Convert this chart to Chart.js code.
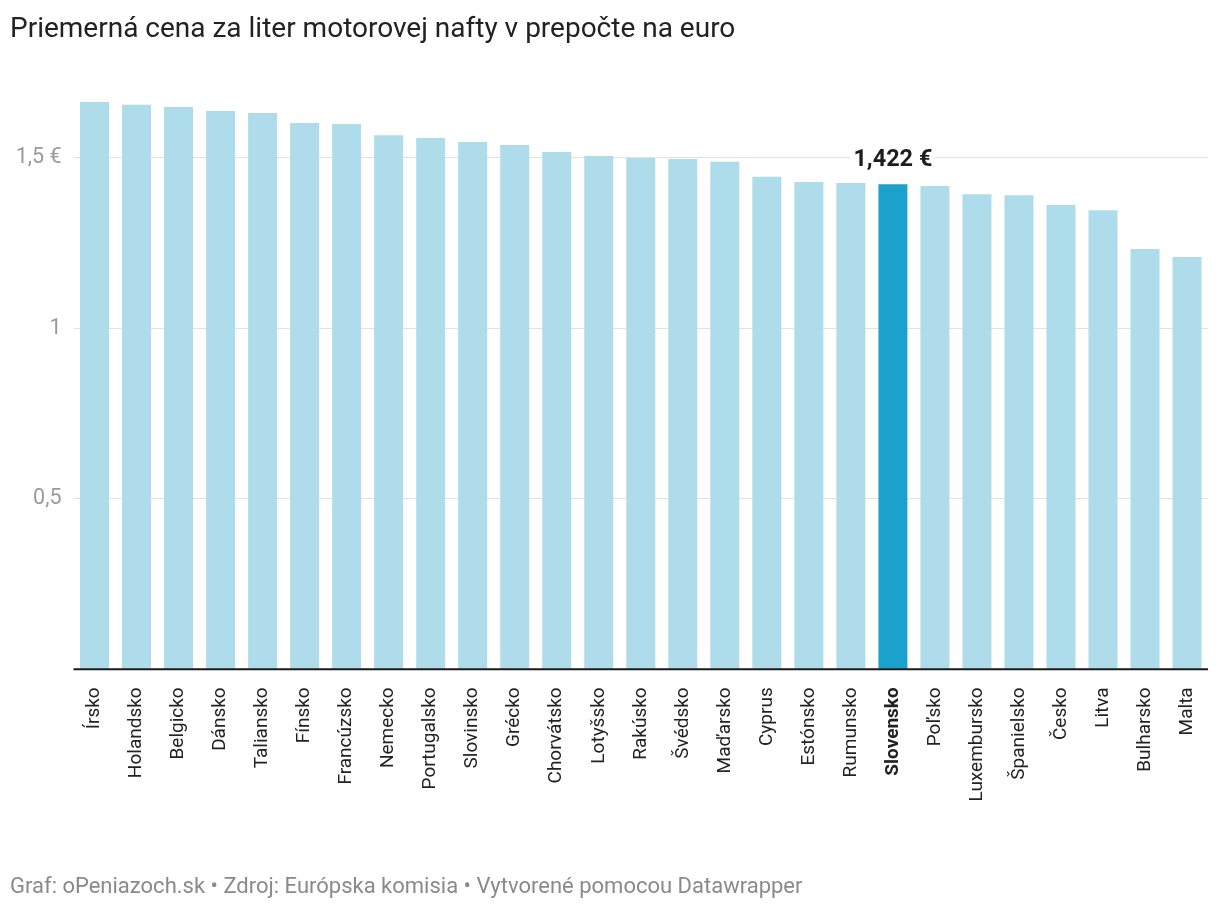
<!DOCTYPE html>
<html>
<head>
<meta charset="utf-8">
<script src="https://cdn.jsdelivr.net/npm/chart.js@4/dist/chart.umd.min.js"></script>
<style>
  body { margin: 0; background: #fff; font-family: Roboto, sans-serif; }
  #wrap { position: relative; width: 1220px; height: 912px; }
  #title { position: absolute; left: 10px; top: 11px; font-size: 28px; color: #222; white-space: nowrap; }
  #footer { position: absolute; left: 10px; top: 873px; font-size: 22px; color: #8a8a8a; white-space: nowrap; }
  canvas { position: absolute; left: 0; top: 0; }
</style>
</head>
<body>
<div id="wrap">
  <canvas id="chart" width="1220" height="912"></canvas>
  <div id="title">Priemerná cena za liter motorovej nafty v prepočte na euro</div>
  <div id="footer">Graf: oPeniazoch.sk • Zdroj: Európska komisia • Vytvorené pomocou Datawrapper</div>
</div>
<script>
// Data
const countries = ['Írsko', 'Holandsko', 'Belgicko', 'Dánsko', 'Taliansko', 'Fínsko', 'Francúzsko',
  'Nemecko', 'Portugalsko', 'Slovinsko', 'Grécko', 'Chorvátsko', 'Lotyšsko', 'Rakúsko', 'Švédsko',
  'Maďarsko', 'Cyprus', 'Estónsko', 'Rumunsko', 'Slovensko', 'Poľsko', 'Luxembursko', 'Španielsko',
  'Česko', 'Litva', 'Bulharsko', 'Malta'];
const prices = [1.663, 1.655, 1.649, 1.637, 1.631, 1.602, 1.599, 1.566, 1.558, 1.546, 1.537, 1.517,
  1.505, 1.499, 1.496, 1.488, 1.444, 1.429, 1.426, 1.422, 1.417, 1.393, 1.390, 1.361, 1.346, 1.232, 1.209];
const yTicks = [0, 0.5, 1, 1.5];
const highlight = 'Slovensko';
const highlightLabel = '1,422 €';

const barColors = countries.map(c => c === highlight ? '#1ba2cc' : '#afdcea');

// Label above the highlighted bar, with a white box over the gridline
const labelPlugin = {
  id: 'highlightLabel',
  afterDatasetsDraw(chart) {
    const ctx = chart.ctx;
    const i = countries.indexOf(highlight);
    const bar = chart.getDatasetMeta(0).data[i];
    ctx.save();
    ctx.font = 'bold 23.5px Roboto';
    const w = ctx.measureText(highlightLabel).width;
    const y = bar.y - 24;
    ctx.fillStyle = '#fff';
    ctx.fillRect(bar.x - w / 2 - 3, y - 12, w + 6, 24);
    ctx.fillStyle = '#1d1d1d';
    ctx.textAlign = 'center';
    ctx.textBaseline = 'middle';
    ctx.fillText(highlightLabel, bar.x, y);
    ctx.restore();
  }
};

// Dark baseline at zero
const baselinePlugin = {
  id: 'baseline',
  afterDatasetsDraw(chart) {
    const { ctx, chartArea } = chart;
    const y = chart.scales.y.getPixelForValue(0);
    ctx.save();
    ctx.strokeStyle = '#1a1a1a';
    ctx.lineWidth = 2;
    ctx.beginPath();
    ctx.moveTo(chartArea.left, y);
    ctx.lineTo(chartArea.right, y);
    ctx.stroke();
    ctx.restore();
  }
};

new Chart(document.getElementById('chart'), {
  type: 'bar',
  data: {
    labels: countries,
    datasets: [{
      data: prices,
      backgroundColor: barColors,
      borderWidth: 0,
      categoryPercentage: 0.69,
      barPercentage: 1
    }]
  },
  options: {
    responsive: false,
    animation: false,
    layout: { padding: { top: 89.5, right: 8, left: 0, bottom: 0 } },
    plugins: { legend: { display: false }, tooltip: { enabled: false } },
    scales: {
      x: {
        grid: { display: false },
        border: { display: false },
        afterFit(scale) { scale.height = 912 - 669.3; },
        ticks: {
          minRotation: 90,
          maxRotation: 90,
          padding: 10,
          color: '#222',
          autoSkip: false,
          font: ctx => ({
            family: 'Roboto',
            size: 19,
            weight: countries[ctx.index] === highlight ? 'bold' : 'normal'
          })
        }
      },
      y: {
        min: 0,
        max: 1.7,
        afterFit(scale) { scale.width = 73.5; },
        afterBuildTicks(scale) { scale.ticks = yTicks.map(v => ({ value: v })); },
        grid: { color: '#e2e2e2', lineWidth: 1, drawTicks: false },
        border: { display: false },
        ticks: {
          padding: 12,
          color: '#9a9a9a',
          font: { family: 'Roboto', size: 21.5 },
          callback: v => v === 0 ? '' : (v === 1.5 ? '1,5 €' : String(v).replace('.', ','))
        }
      }
    }
  },
  plugins: [labelPlugin, baselinePlugin]
});
</script>
</body>
</html>
